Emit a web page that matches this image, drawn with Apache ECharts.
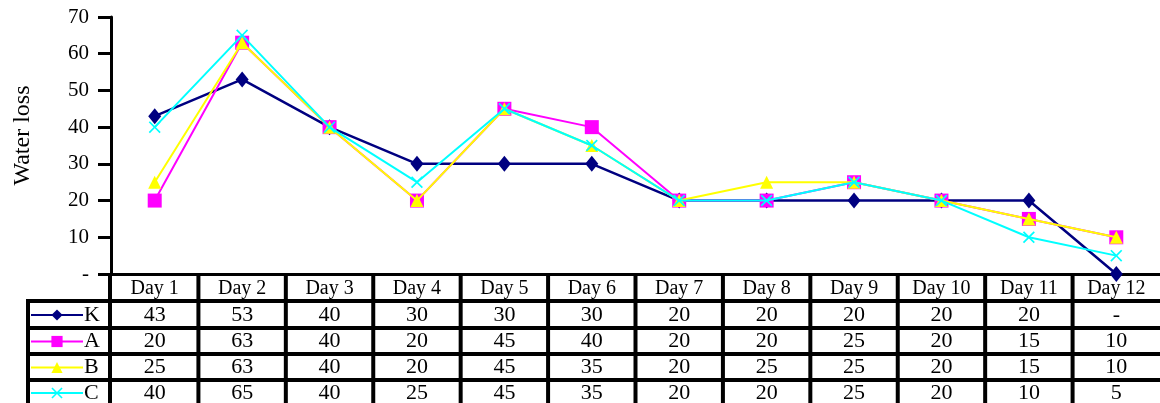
<!DOCTYPE html>
<html>
<head>
<meta charset="utf-8">
<script src="https://cdn.jsdelivr.net/npm/echarts@6/dist/echarts.min.js"></script>
<style>
  html, body { margin: 0; padding: 0; background: #fff; }
  #chart { width: 1160px; height: 403px; }
</style>
</head>
<body>
<div id="chart"></div>
<script>
// Daily water loss per treatment
const days = ['Day 1', 'Day 2', 'Day 3', 'Day 4', 'Day 5', 'Day 6', 'Day 7', 'Day 8', 'Day 9', 'Day 10', 'Day 11', 'Day 12'];
const seriesNames = ['K', 'A', 'B', 'C'];
const kLoss = [43, 53, 40, 30, 30, 30, 20, 20, 20, 20, 20, 0];
const aLoss = [20, 63, 40, 20, 45, 40, 20, 20, 25, 20, 15, 10];
const bLoss = [25, 63, 40, 20, 45, 35, 20, 25, 25, 20, 15, 10];
const cLoss = [40, 65, 40, 25, 45, 35, 20, 20, 25, 20, 10, 5];
const yMin = 0, yMax = 70, yStep = 10;

const seriesValues = [kLoss, aLoss, bLoss, cLoss];
const colors = ['#000080', '#ff00ff', '#ffff00', '#00ffff'];
const symbols = [
  'diamond',
  'rect',
  'triangle',
  'path://M0,1L1,0L5,4L9,0L10,1L6,5L10,9L9,10L5,6L1,10L0,9L4,5Z'
];
const symbolSizes = [[13, 16], 14, 13, 12];
const serif = '"Liberation Serif", "DejaVu Serif", serif';

// table geometry: row borders and row centres below the axis
const rowLines = [301, 328, 354, 380];
const rowCenters = [315, 341.5, 367.5, 393];

// zero is shown as a dash, accounting style
const fmt = v => (v === 0 ? '-' : String(v));

const chart = echarts.init(document.getElementById('chart'));

const option = {
  animation: false,
  backgroundColor: '#fff',
  grid: { left: 111, right: 0, top: 17, bottom: 129, containLabel: false, outerBoundsMode: 'none' },
  // one legend per table row so each key sits beside its values
  legend: seriesNames.map((name, i) => ({
    orient: 'horizontal',
    left: 30,
    top: rowCenters[i] - 11,
    itemWidth: 52,
    itemHeight: 14,
    itemGap: 0,
    padding: 0,
    selectedMode: false,
    textStyle: { fontFamily: serif, fontSize: 22, color: '#000', lineHeight: 22, padding: [0, 0, 0, -4] },
    data: [name]
  })),
  xAxis: {
    type: 'category',
    data: days,
    boundaryGap: true,
    axisLine: { show: true, lineStyle: { color: '#000', width: 3 } },
    axisTick: { show: false },
    axisLabel: { fontFamily: serif, fontSize: 20, color: '#000', margin: 5 },
    splitLine: { show: false }
  },
  yAxis: {
    type: 'value',
    min: yMin,
    max: yMax,
    interval: yStep,
    name: 'Water loss',
    nameLocation: 'middle',
    nameGap: 76,
    nameTextStyle: { fontFamily: serif, fontSize: 24, color: '#000', padding: [0, 0, 0, 20] },
    axisLine: { show: true, lineStyle: { color: '#000', width: 3 } },
    axisTick: { show: true, length: 13, lineStyle: { color: '#000', width: 3 } },
    axisLabel: { fontFamily: serif, fontSize: 21, color: '#000', margin: 22, formatter: fmt },
    splitLine: { show: false }
  },
  series: seriesNames.map((name, i) => ({
    name: name,
    type: 'line',
    data: seriesValues[i],
    symbol: symbols[i],
    symbolSize: symbolSizes[i],
    showAllSymbol: true,
    lineStyle: { color: colors[i], width: i === 0 ? 2.5 : 2 },
    itemStyle: { color: colors[i], borderWidth: 0 },
    z: 2 + i
  }))
};

chart.setOption(option);

// Data table below the axis, columns aligned with the category axis
function buildTable() {
  const x0 = chart.convertToPixel({ xAxisIndex: 0 }, 0);
  const x1 = chart.convertToPixel({ xAxisIndex: 0 }, 1);
  const colW = x1 - x0;
  const axisY = chart.convertToPixel({ yAxisIndex: 0 }, yMin);
  const left = x0 - colW / 2;
  const bottom = 403;
  const legendLeft = 28;
  const els = [];
  const bar = { stroke: '#000', lineWidth: 4 };

  // vertical cell borders
  for (let i = 1; i < days.length; i++) {
    const x = left + i * colW;
    els.push({ type: 'line', shape: { x1: x, y1: axisY, x2: x, y2: bottom }, style: bar, silent: true });
  }
  els.push({ type: 'line', shape: { x1: left - 1, y1: axisY, x2: left - 1, y2: bottom }, style: bar, silent: true });
  els.push({ type: 'line', shape: { x1: legendLeft, y1: rowLines[0] - 2, x2: legendLeft, y2: bottom }, style: bar, silent: true });

  // horizontal row borders
  rowLines.forEach(y => {
    els.push({ type: 'line', shape: { x1: legendLeft - 2, y1: y, x2: 1160, y2: y }, style: bar, silent: true });
  });

  // cell values
  seriesValues.forEach((vals, r) => {
    vals.forEach((v, c) => {
      els.push({
        type: 'text',
        silent: true,
        x: chart.convertToPixel({ xAxisIndex: 0 }, c),
        y: rowCenters[r],
        style: {
          text: fmt(v),
          fontFamily: serif,
          fontSize: 22,
          fill: '#000',
          align: 'center',
          verticalAlign: 'middle'
        }
      });
    });
  });

  chart.setOption({ graphic: els });
}

buildTable();
</script>
</body>
</html>
